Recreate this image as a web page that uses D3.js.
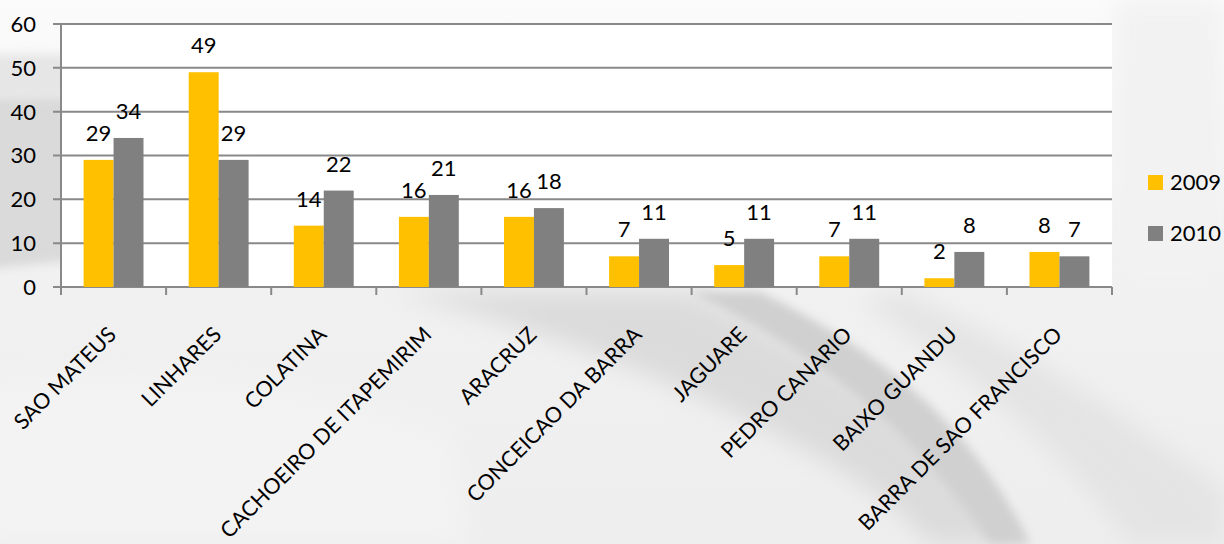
<!DOCTYPE html>
<html><head><meta charset="utf-8">
<script src="https://cdn.jsdelivr.net/npm/d3@7"></script>
<style>body{margin:0;}svg{display:block;}</style>
</head><body>
<svg id="c" width="1224" height="544"></svg>
<script>
const categories = ["SAO MATEUS","LINHARES","COLATINA","CACHOEIRO DE ITAPEMIRIM","ARACRUZ","CONCEICAO DA BARRA","JAGUARE","PEDRO CANARIO","BAIXO GUANDU","BARRA DE SAO FRANCISCO"];
const seriesNames = ["2009","2010"];
const values2009 = [29,49,14,16,16,7,5,7,2,8];
const values2010 = [34,29,22,21,18,11,11,11,8,7];
const yTicks = [0,10,20,30,40,50,60];
const colors = ["#FFC000","#808080"];

(function(){
const svg = d3.select("#c");
const W = 1224, H = 544;
const defs = svg.append("defs");
const bg = defs.append("linearGradient").attr("id","bg").attr("x1","0").attr("y1","0").attr("x2","0").attr("y2","1");
bg.append("stop").attr("offset","0").attr("stop-color","#fbfbfb");
bg.append("stop").attr("offset","0.5").attr("stop-color","#f1f1f1");
bg.append("stop").attr("offset","1").attr("stop-color","#eeeeee");
svg.append("rect").attr("width",W).attr("height",H).attr("fill","url(#bg)");
defs.append("filter").attr("id","blur").attr("x","-20%").attr("y","-20%").attr("width","140%").attr("height","140%")
  .append("feGaussianBlur").attr("stdDeviation",12);
defs.append("filter").attr("id","blur2").attr("x","-20%").attr("y","-20%").attr("width","140%").attr("height","140%")
  .append("feGaussianBlur").attr("stdDeviation",5);
const sw = svg.append("g");
sw.append("path").attr("d","M-20,55 C60,52 120,56 200,62 L200,100 C120,96 60,95 -20,97 Z").attr("fill","#e6e6e6").attr("filter","url(#blur2)");
sw.append("path").attr("d","M-20,97 C60,95 120,96 200,100 L200,250 C120,255 60,262 -20,270 Z").attr("fill","#dadada").attr("filter","url(#blur2)");
sw.append("path").attr("d","M-20,380 C150,360 300,380 450,430 L470,544 L-20,544 Z").attr("fill","#f3f3f3").attr("filter","url(#blur)");
sw.append("path").attr("d","M390,292 C560,330 720,400 840,470 C880,495 910,520 930,544 L1020,544 C960,470 880,380 690,292 Z").attr("fill","#dbdbdb").attr("filter","url(#blur)");
sw.append("path").attr("d","M690,292 C830,360 920,440 990,544 L1030,544 C980,440 900,360 760,292 Z").attr("fill","#d0d0d0").attr("filter","url(#blur2)");
sw.append("path").attr("d","M900,292 C1030,350 1130,420 1224,490 L1224,544 L1130,544 C1070,460 980,380 860,300 Z").attr("fill","#e4e4e4").attr("filter","url(#blur)");
sw.append("rect").attr("x",1115).attr("y",0).attr("width",109).attr("height",290).attr("fill","#f2f2f2").attr("filter","url(#blur)");

const pl = 61, pr = 1112, pt = 24, pb = 287;
const x0 = d3.scaleBand().domain(categories).range([pl,pr]).paddingInner(0.43).paddingOuter(0.215);
const x1 = d3.scaleBand().domain(seriesNames).range([0,x0.bandwidth()]);
const y = d3.scaleLinear().domain([0,60]).range([pb,pt]);

svg.append("rect").attr("x",pl).attr("y",pt).attr("width",pr-pl).attr("height",pb-pt).attr("fill","#ffffff");

const font = "Lato, 'Open Sans', sans-serif";
svg.append("g").selectAll("line").data(yTicks).join("line")
  .attr("x1",pl-8).attr("x2",pr).attr("y1",d=>y(d)).attr("y2",d=>y(d))
  .attr("stroke","#898989").attr("stroke-width",2);
svg.append("g").selectAll("text").data(yTicks).join("text")
  .attr("x",36).attr("y",d=>y(d)).attr("dy","0.36em").attr("text-anchor","end")
  .attr("font-family",font).attr("font-size",22).attr("fill","#000").text(d=>d);
svg.append("line").attr("x1",pl).attr("x2",pl).attr("y1",pt).attr("y2",pb+8).attr("stroke","#898989").attr("stroke-width",2);
const bounds = categories.map((c,i)=>pl + (i+1)*x0.step());
svg.append("g").selectAll("line").data(bounds).join("line")
  .attr("x1",d=>d).attr("x2",d=>d).attr("y1",pb).attr("y2",pb+8).attr("stroke","#898989").attr("stroke-width",2);

const data = categories.map((c,i)=>({c, v:[values2009[i],values2010[i]]}));
const g = svg.append("g").selectAll("g").data(data).join("g").attr("transform",d=>`translate(${x0(d.c)},0)`);
g.selectAll("rect").data(d=>d.v.map((v,k)=>({k,v}))).join("rect")
  .attr("x",d=>x1(seriesNames[d.k])).attr("width",x1.bandwidth())
  .attr("y",d=>y(d.v)).attr("height",d=>pb-y(d.v)).attr("fill",d=>colors[d.k]);
g.selectAll("text").data(d=>d.v.map((v,k)=>({k,v}))).join("text")
  .attr("x",d=>x1(seriesNames[d.k])+x1.bandwidth()/2).attr("y",d=>y(d.v)-19)
  .attr("text-anchor","middle").attr("font-family",font).attr("font-size",22).attr("fill","#000").text(d=>d.v);

svg.append("g").selectAll("text").data(categories).join("text")
  .attr("transform",d=>`translate(${x0(d)+x0.bandwidth()/2+4},${336}) rotate(-45)`)
  .attr("text-anchor","end").attr("font-family",font).attr("font-size",21.5).attr("fill","#000").text(d=>d);

const lg = svg.append("g").selectAll("g").data(seriesNames).join("g").attr("transform",(d,i)=>`translate(1148,${175+i*51})`);
lg.append("rect").attr("width",15).attr("height",15).attr("fill",(d,i)=>colors[i]);
lg.append("text").attr("x",22).attr("y",15).attr("font-family",font).attr("font-size",22).attr("fill","#000").text(d=>d);
})();
</script>
</body></html>
